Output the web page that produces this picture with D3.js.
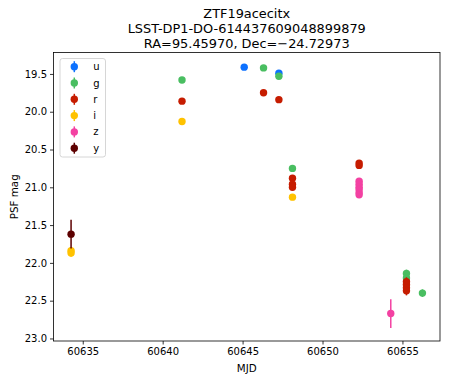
<!DOCTYPE html>
<html lang="en">

    <head>
        <meta charset="UTF-8">
        <script src="https://d3js.org/d3.v7.min.js"></script>
        <title>ZTF19acecitx light curve</title>
        <style>
            body { margin: 0; background: #fff; }
            text { font-family: 'DejaVu Sans', sans-serif; fill: #000; }
        </style>
    </head>

    <body>
        <script>
            // Light curve values, one set of arrays per band
            const bands = ['u', 'g', 'r', 'i', 'z', 'y'];
            const bandColors = ['#0c71ff', '#49be61', '#c61c00', '#ffc200', '#f341a2', '#5d0000'];

            const uMjd = [60645.10, 60647.27];
            const uMag = [19.41, 19.49];
            const uErr = [0.02, 0.03];

            const gMjd = [60641.21, 60646.31, 60647.27, 60648.12, 60655.25, 60655.25, 60656.25];
            const gMag = [19.58, 19.42, 19.53, 20.75, 22.14, 22.20, 22.40];
            const gErr = [0.03, 0.03, 0.03, 0.04, 0.05, 0.05, 0.05];

            const rMjd = [60641.21, 60646.31, 60647.27, 60648.12, 60648.12, 60648.12, 60652.29, 60652.29,
                60655.25, 60655.25, 60655.25, 60655.25];
            const rMag = [19.86, 19.75, 19.84, 20.88, 20.96, 21.00, 20.68, 20.71, 22.25, 22.29, 22.33, 22.37];
            const rErr = [0.03, 0.03, 0.03, 0.04, 0.04, 0.04, 0.04, 0.04, 0.06, 0.06, 0.06, 0.06];

            const iMjd = [60634.27, 60634.27, 60641.21, 60648.12];
            const iMag = [21.84, 21.87, 20.13, 21.13];
            const iErr = [0.05, 0.05, 0.03, 0.04];

            const zMjd = [60652.29, 60652.29, 60652.29, 60652.29, 60652.29, 60652.29, 60654.27];
            const zMag = [20.92, 20.96, 21.00, 21.03, 21.07, 21.10, 22.67];
            const zErr = [0.04, 0.04, 0.04, 0.04, 0.04, 0.04, 0.19];

            const yMjd = [60634.27];
            const yMag = [21.62];
            const yErr = [0.19];

            const xTicks = [60635, 60640, 60645, 60650, 60655];
            const yTicks = [19.5, 20.0, 20.5, 21.0, 21.5, 22.0, 22.5, 23.0];
            const titleLines = ['ZTF19acecitx', 'LSST-DP1-DO-614437609048899879', 'RA=95.45970, Dec=\u221224.72973'];

            const series = [
                { band: 'u', mjd: uMjd, mag: uMag, err: uErr },
                { band: 'g', mjd: gMjd, mag: gMag, err: gErr },
                { band: 'r', mjd: rMjd, mag: rMag, err: rErr },
                { band: 'i', mjd: iMjd, mag: iMag, err: iErr },
                { band: 'z', mjd: zMjd, mag: zMag, err: zErr },
                { band: 'y', mjd: yMjd, mag: yMag, err: yErr }
            ];

            const color = d3.scaleOrdinal().domain(bands).range(bandColors);

            const W = 449, H = 382;
            const plotLeft = 53.5, plotRight = 440, plotTop = 52.5, plotBottom = 341;

            const svg = d3.select('body').append('svg')
                .attr('width', W)
                .attr('height', H);

            // matplotlib style 5% margins around the data (including error bars)
            const allX = series.flatMap(s => s.mjd);
            const allLo = series.flatMap(s => s.mag.map((m, i) => m - s.err[i]));
            const allHi = series.flatMap(s => s.mag.map((m, i) => m + s.err[i]));
            const xMin = d3.min(allX), xMax = d3.max(allX);
            const yMin = d3.min(allLo), yMax = d3.max(allHi);
            const xPad = (xMax - xMin) * 0.05, yPad = (yMax - yMin) * 0.05;

            const xScale = d3.scaleLinear()
                .domain([xMin - xPad, xMax + xPad])
                .range([plotLeft, plotRight]);

            // magnitudes are inverted: bright at the top
            const yScale = d3.scaleLinear()
                .domain([yMin - yPad, yMax + yPad])
                .range([plotTop, plotBottom]);

            const fmtY = d3.format('.1f');

            // Create x-axis
            const xAxis = svg.append('g')
                .attr('transform', `translate(0, ${plotBottom})`)
                .call(d3.axisBottom(xScale).tickValues(xTicks).tickFormat(d3.format('d')).tickSize(3.5).tickPadding(3));

            // Create y-axis
            const yAxis = svg.append('g')
                .attr('transform', `translate(${plotLeft}, 0)`)
                .call(d3.axisLeft(yScale).tickValues(yTicks).tickFormat(fmtY).tickSize(3.5).tickPadding(3));

            [xAxis, yAxis].forEach(function (ax) {
                ax.select('.domain').remove();
                ax.selectAll('line').attr('stroke', '#000').attr('stroke-width', 0.8);
                ax.selectAll('text').attr('font-size', '10px').attr('font-family', 'DejaVu Sans, sans-serif').attr('fill', '#000');
            });

            // Error bars then points, band by band
            series.forEach(function (s) {
                const g = svg.append('g').attr('fill', color(s.band)).attr('stroke', color(s.band));
                const pts = s.mjd.map((m, i) => ({ x: m, y: s.mag[i], e: s.err[i] }));

                g.selectAll()
                    .data(pts)
                    .enter()
                    .append('line')
                    .attr('x1', d => xScale(d.x))
                    .attr('x2', d => xScale(d.x))
                    .attr('y1', d => yScale(d.y - d.e))
                    .attr('y2', d => yScale(d.y + d.e))
                    .attr('stroke-width', 1.5);

                g.selectAll()
                    .data(pts)
                    .enter()
                    .append('circle')
                    .attr('cx', d => xScale(d.x))
                    .attr('cy', d => yScale(d.y))
                    .attr('r', 3.7)
                    .attr('stroke', 'none');
            });

            // Frame
            svg.append('rect')
                .attr('x', plotLeft)
                .attr('y', plotTop)
                .attr('width', plotRight - plotLeft)
                .attr('height', plotBottom - plotTop)
                .attr('fill', 'none')
                .attr('stroke', '#000')
                .attr('stroke-width', 0.8);

            // Title
            svg.append('g')
                .selectAll()
                .data(titleLines)
                .enter()
                .append('text')
                .attr('x', (plotLeft + plotRight) / 2)
                .attr('y', (d, i) => 18 + i * 15)
                .attr('text-anchor', 'middle')
                .attr('font-size', '12.9px')
                .text(d => d);

            // Axis labels
            svg.append('text')
                .attr('x', (plotLeft + plotRight) / 2)
                .attr('y', 372)
                .attr('text-anchor', 'middle')
                .attr('font-size', '10.3px')
                .text('MJD');

            svg.append('text')
                .attr('transform', 'rotate(-90)')
                .attr('x', -(plotTop + plotBottom) / 2)
                .attr('y', 17.5)
                .attr('text-anchor', 'middle')
                .attr('font-size', '10.3px')
                .text('PSF mag');

            // Legend
            svg.append('rect')
                .attr('x', 60)
                .attr('y', 58.5)
                .attr('width', 45.5)
                .attr('height', 98.5)
                .attr('rx', 2.5)
                .attr('fill', '#fff')
                .attr('fill-opacity', 0.8)
                .attr('stroke', '#ccc')
                .attr('stroke-width', 0.8);

            const legend = svg.append('g')
                .selectAll()
                .data(bands)
                .enter()
                .append('g')
                .attr('transform', (d, i) => `translate(74.3, ${66.7 + i * 16.3})`);

            legend.append('line')
                .attr('y1', -5.5)
                .attr('y2', 5.5)
                .attr('stroke', d => color(d))
                .attr('stroke-width', 1.5);

            legend.append('circle')
                .attr('r', 3.7)
                .attr('fill', d => color(d));

            legend.append('text')
                .attr('x', 19)
                .attr('y', 3.5)
                .attr('font-size', '10px')
                .text(d => d);
        </script>
    </body>

</html>
